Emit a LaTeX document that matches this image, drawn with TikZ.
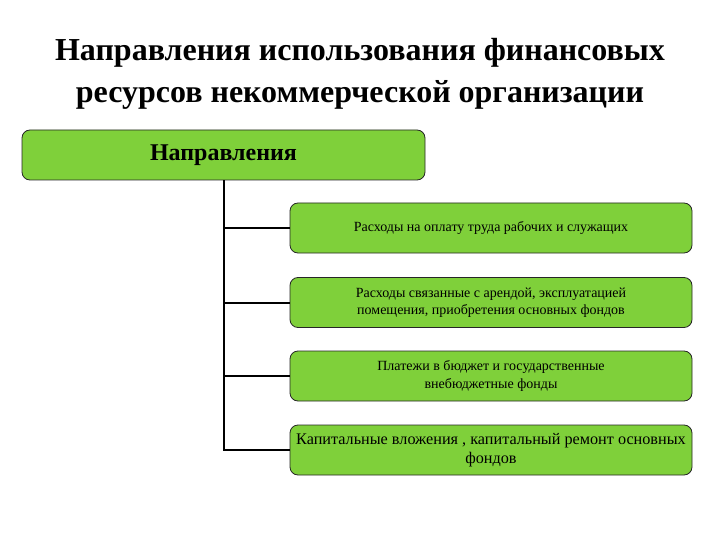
\documentclass[tikz,border=0pt]{standalone}
\usepackage{fontspec}
\setmainfont{Liberation Serif}
\usepackage{xcolor}
\usetikzlibrary{positioning,calc}
\definecolor{leafgreen}{HTML}{7FD03A}

\begin{document}
\begin{tikzpicture}[x=1pt,y=-1pt,
   box/.style={draw=black!85,line width=0.8pt,fill=leafgreen,rectangle,
               rounded corners=8pt,minimum height=50pt,align=center,inner sep=2pt},
   head/.style={box,minimum width=403pt,font=\bfseries\fontsize{24}{28}\selectfont},
   item/.style={box,minimum width=402pt,font=\fontsize{14}{17.5}\selectfont},
   link/.style={line width=2pt,black}
]
\useasboundingbox (0,0) rectangle (720,540);

% Title
\node[font=\bfseries\fontsize{32}{42}\selectfont,align=center] (title) at (360,74)
   {Направления использования финансовых\\ресурсов некоммерческой организации};

% Root
\node[head] (dir) at (223.5,155) {Направления};

% Items
\node[item] (c1) at (491,228) {Расходы на оплату труда рабочих и служащих};
\node[item] (c2) at (491,302.5) {Расходы связанные с арендой, эксплуатацией\\помещения, приобретения основных фондов};
\node[item] (c3) at (491,376) {Платежи в бюджет и государственные\\внебюджетные фонды};
\node[item,font=\fontsize{16.2}{19.5}\selectfont] (c4) at (491,450)
   {Капитальные вложения , капитальный ремонт основных\\фондов};

% Connectors
\draw[link] (dir.south) |- (c4.west);
\foreach \n in {c1,c2,c3}
   \draw[link] (dir.south |- \n.west) -- (\n.west);
\end{tikzpicture}
\end{document}
